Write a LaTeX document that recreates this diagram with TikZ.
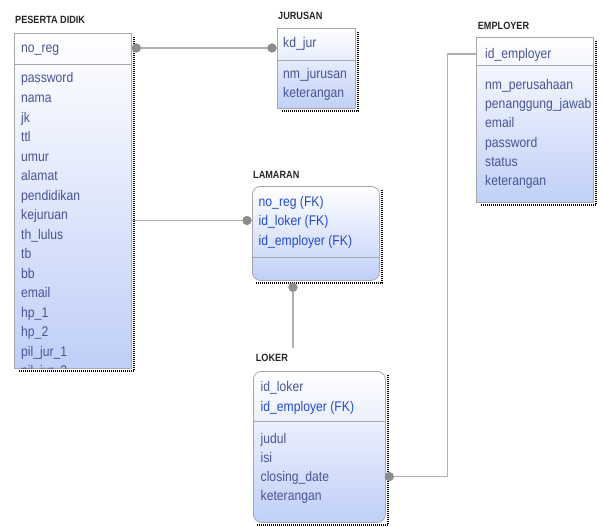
\documentclass[tikz,border=0pt]{standalone}
\usepackage{fontspec}
\setmainfont{Liberation Sans}[FakeStretch=0.87]
\usetikzlibrary{calc}
\definecolor{attrblue}{RGB}{72,84,150}
\definecolor{fkblue}{RGB}{35,75,205}
\definecolor{boxline}{RGB}{168,168,168}
\definecolor{boxfill}{RGB}{192,207,248}
\definecolor{linkgray}{RGB}{175,175,175}
\definecolor{dotgray}{RGB}{140,140,140}
\begin{document}
\begin{tikzpicture}[x=1pt, y=-1pt,
    entity/.style={draw=boxline, line width=0.8pt, top color=white, bottom color=boxfill,
      inner sep=0, anchor=north west},
    title/.style={font=\fontsize{10.5}{13}\selectfont\bfseries, text=black!85, inner sep=0, anchor=base west},
    attr/.style={font=\fontsize{14}{16}\selectfont, text=attrblue, inner sep=0,
      text height=10pt, text depth=0pt, anchor=base west},
    fk/.style={attr, text=fkblue},
    sepline/.style={draw=boxline, line width=0.8pt},
    dropline/.style={black, line width=2pt, dash pattern=on 1pt off 1pt},
    conn/.style={draw=linkgray, line width=1.3pt},
    enddot/.style={circle, fill=dotgray, inner sep=0, minimum size=9pt}]
    \useasboundingbox (0,0) rectangle (603,527);
    %Entity boxes
    \node[entity, minimum width=117pt, minimum height=335pt] (peserta) at (14,33) {};
    \node[entity, minimum width=78pt, minimum height=80pt] (jurusan) at (277,28) {};
    \node[entity, minimum width=127pt, minimum height=94pt, rounded corners=8pt] (lamaran) at (252,186) {};
    \node[entity, minimum width=132pt, minimum height=151pt, rounded corners=8pt] (loker) at (253,371) {};
    \node[entity, minimum width=117pt, minimum height=165pt] (employer) at (476,37) {};
    %Shadows
    \foreach \e in {peserta, jurusan, lamaran, loker, employer}
      \draw[dropline] ($(\e.north east)+(2,4)$) -- ($(\e.south east)+(2,2)$) -- ($(\e.south west)+(4,2)$);
    %Key separators
    \draw[sepline] ($(peserta.north west)+(0,31)$) -- ($(peserta.north east)+(0,31)$);
    \draw[sepline] ($(jurusan.north west)+(0,32)$) -- ($(jurusan.north east)+(0,32)$);
    \draw[sepline] ($(lamaran.north west)+(0,71)$) -- ($(lamaran.north east)+(0,71)$);
    \draw[sepline] ($(loker.north west)+(0,50)$) -- ($(loker.north east)+(0,50)$);
    \draw[sepline] ($(employer.north west)+(0,28)$) -- ($(employer.north east)+(0,28)$);
    %Titles
    \node[title] (pdtitle) at (15,23.3) {PESERTA DIDIK};
    \node[title] (jrtitle) at (278,20) {JURUSAN};
    \node[title] (lmtitle) at (253,178) {LAMARAN};
    \node[title] (lktitle) at (255.7,361.7) {LOKER};
    \node[title] (emtitle) at (477.7,30) {EMPLOYER};
    %PESERTA DIDIK
    \node[attr] (pdpk) at (21,53) {no\_reg};
    \begin{scope}
      \clip (peserta.north west) rectangle (peserta.south east);
      \foreach \t [count=\i] in {password, nama, jk, ttl, umur, alamat, pendidikan, kejuruan,
          th\_lulus, tb, bb, email, hp\_1, hp\_2, pil\_jur\_1, pil\_jur\_2}
        \node[attr] (pd\i) at (21,{83+19.5*(\i-1)}) {\t};
    \end{scope}
    %JURUSAN
    \node[attr] (jrpk) at (283,48) {kd\_jur};
    \foreach \t [count=\i] in {nm\_jurusan, keterangan}
      \node[attr] (jr\i) at (283,{78+19.5*(\i-1)}) {\t};
    %LAMARAN
    \foreach \t [count=\i] in {no\_reg (FK), id\_loker (FK), id\_employer (FK)}
      \node[fk] (lm\i) at (258.5,{206+19.5*(\i-1)}) {\t};
    %LOKER
    \node[attr] (lkpk) at (260.5,391.7) {id\_loker};
    \node[fk] (lkfk) at (260.5,411.5) {id\_employer (FK)};
    \foreach \t [count=\i] in {judul, isi, closing\_date, keterangan}
      \node[attr] (lk\i) at (260.5,{443+19.3*(\i-1)}) {\t};
    %EMPLOYER
    \node[attr] (empk) at (485,59) {id\_employer};
    \foreach \t [count=\i] in {nm\_perusahaan, penanggung\_jawab, email, password, status, keterangan}
      \node[attr] (em\i) at (485,{90+19*(\i-1)}) {\t};
    %Relations
    \draw[conn] (peserta.east |- pdpk) -- (jurusan.west |- pdpk);
    \node[enddot] (d1) at ($(peserta.east |- pdpk)+(4.5,0)$) {};
    \node[enddot] (d2) at ($(jurusan.west |- pdpk)+(-5,0)$) {};
    \draw[conn] (peserta.east |- lm2) -- (lamaran.west |- lm2);
    \node[enddot] (d3) at ($(lamaran.west |- lm2)+(-5,0)$) {};
    \node[enddot] (d4) at ($(lamaran.south west)+(41,6.5)$) {};
    \draw[conn] (d4) -- ($(d4 |- lktitle.north)+(0,-6)$);
    \node[enddot] (d5) at ($(loker.east |- lk3)+(3.5,0)$) {};
    \coordinate (bend) at (447.5,0);
    \draw[conn] (d5) -| (bend |- empk) -- (employer.west |- empk);
    %Dots on top
    \foreach \d in {d1, d2, d3, d4, d5}
      \fill[dotgray] (\d) circle (4.5);
  \end{tikzpicture}
\end{document}
